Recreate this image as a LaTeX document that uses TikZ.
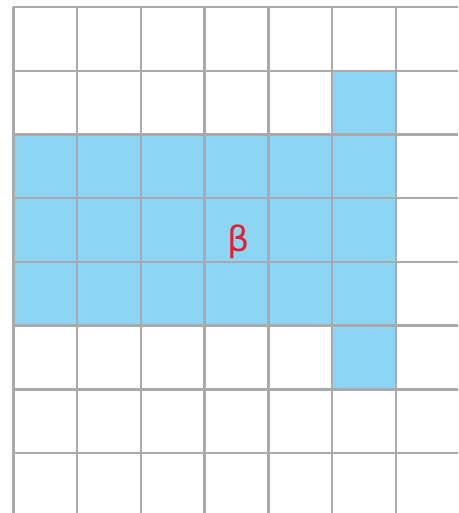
\documentclass[tikz,border=0pt]{standalone}
\usepackage{fontspec}
\newfontfamily\labelfont{DejaVu Sans}

\definecolor{cellblue}{RGB}{141,213,245}
\definecolor{gridgray}{RGB}{170,170,172}
\definecolor{betared}{RGB}{230,30,45}

\begin{document}
\begin{tikzpicture}[
        cell/.style={fill=cellblue, draw=none},
        gridline/.style={draw=gridgray, line width=1.1pt},
        lbl/.style={text=betared, font=\labelfont\fontsize{15.5}{18}\selectfont, inner sep=0pt}
        ]
        \useasboundingbox (0,0) rectangle (7.19,-8.05);
        % filled region
        \fill[cell] (0.21,-2.11) rectangle (6.21,-5.11);
        \fill[cell] (5.21,-1.11) rectangle (6.21,-6.11);
        % grid
        \foreach \i in {0,...,6}
            \draw[gridline] (0.21+\i,-0.11) -- (0.21+\i,-8.05);
        \foreach \j in {0,...,7}
            \draw[gridline] (0.21,-0.11-\j) -- (7.19,-0.11-\j);
        \node[lbl] (beta) at (3.75,-3.80) {β};
    \end{tikzpicture}
\end{document}
